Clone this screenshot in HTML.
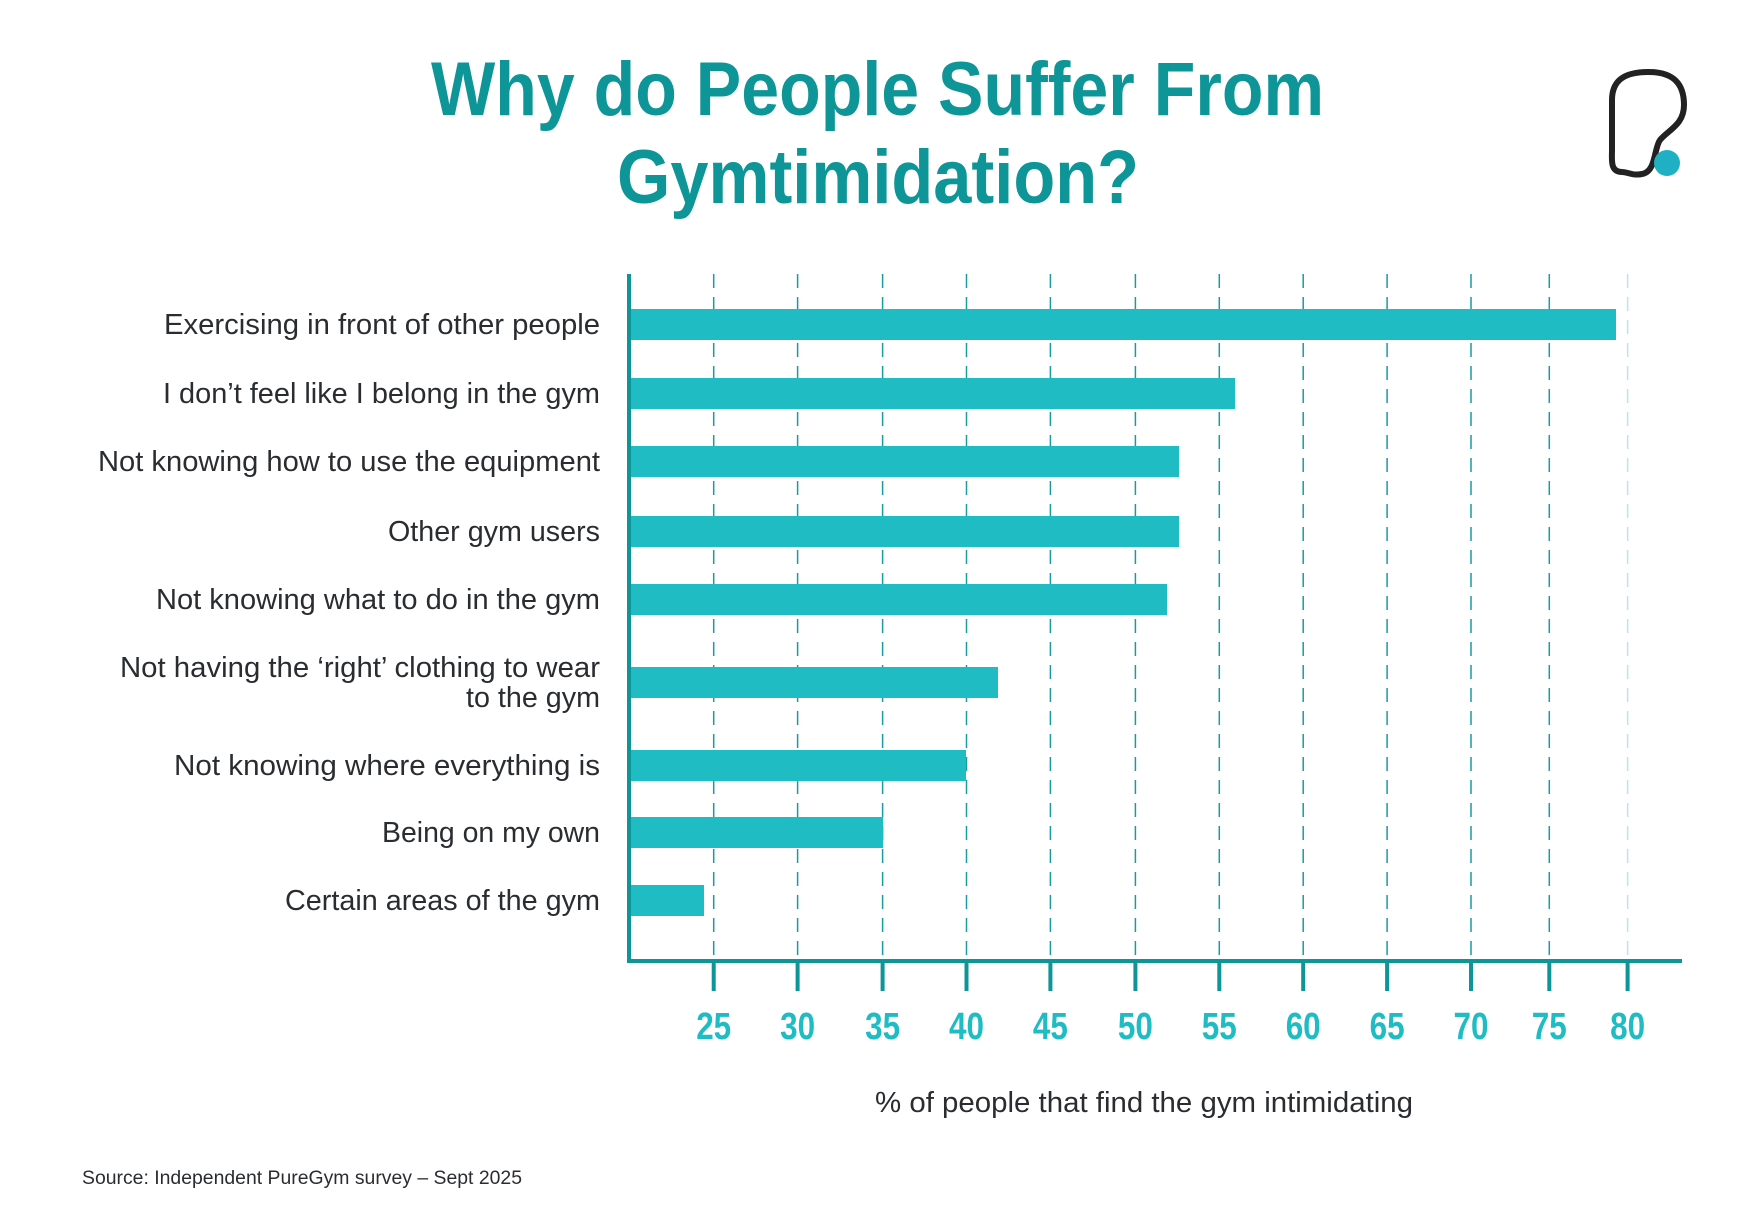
<!DOCTYPE html>
<html><head><meta charset="utf-8"><style>html,body{margin:0;padding:0;background:#fff}svg{display:block}</style></head>
<body>
<svg width="1754" height="1219" viewBox="0 0 1754 1219" xmlns="http://www.w3.org/2000/svg" font-family="Liberation Sans, sans-serif">
<rect width="1754" height="1219" fill="#fff"/>
<g fill="#0e9597" font-weight="bold" font-size="76" text-anchor="start">
<text x="431" y="115" textLength="893" lengthAdjust="spacingAndGlyphs">Why do People Suffer From</text>
<text x="617" y="203" textLength="522" lengthAdjust="spacingAndGlyphs">Gymtimidation?</text>
</g>
<path d="M1622 172 C1610 172 1612 160 1612 150 L1612 100 C1612 80 1625 72 1648 72 C1675 72 1684 85 1684 105 C1684 125 1668 130 1660 140 C1654 148 1656 172 1642 174 C1632 176 1628 172 1622 172 Z" fill="none" stroke="#222" stroke-width="6"/>
<circle cx="1667" cy="163" r="13" fill="#20b0c4"/>
<g stroke="#1a9aa3" stroke-width="1.5" stroke-dasharray="14,9">
<line x1="713.7" y1="274" x2="713.7" y2="961"/><line x1="797.6" y1="274" x2="797.6" y2="961"/><line x1="882.6" y1="274" x2="882.6" y2="961"/><line x1="966.5" y1="274" x2="966.5" y2="961"/><line x1="1050.4" y1="274" x2="1050.4" y2="961"/><line x1="1135.4" y1="274" x2="1135.4" y2="961"/><line x1="1219.3" y1="274" x2="1219.3" y2="961"/><line x1="1303.2" y1="274" x2="1303.2" y2="961"/><line x1="1387.1" y1="274" x2="1387.1" y2="961"/><line x1="1471" y1="274" x2="1471" y2="961"/><line x1="1549.3" y1="274" x2="1549.3" y2="961"/><line x1="1627.6" y1="274" x2="1627.6" y2="961" stroke="#bfe3e6"/>
</g>
<g fill="#20bcc3">
<rect x="629" y="309" width="987" height="31"/>
<rect x="629" y="378" width="606" height="31"/>
<rect x="629" y="446" width="550" height="31"/>
<rect x="629" y="516" width="550" height="31"/>
<rect x="629" y="584" width="538" height="31"/>
<rect x="629" y="667" width="369" height="31"/>
<rect x="629" y="750" width="337" height="31"/>
<rect x="629" y="817" width="254" height="31"/>
<rect x="629" y="885" width="75" height="31"/>
</g>
<g stroke="#0e9597" stroke-width="4">
<line x1="629" y1="274" x2="629" y2="961"/>
<line x1="627" y1="961" x2="1682" y2="961"/>
<line x1="713.7" y1="961" x2="713.7" y2="991"/><line x1="797.6" y1="961" x2="797.6" y2="991"/><line x1="882.6" y1="961" x2="882.6" y2="991"/><line x1="966.5" y1="961" x2="966.5" y2="991"/><line x1="1050.4" y1="961" x2="1050.4" y2="991"/><line x1="1135.4" y1="961" x2="1135.4" y2="991"/><line x1="1219.3" y1="961" x2="1219.3" y2="991"/><line x1="1303.2" y1="961" x2="1303.2" y2="991"/><line x1="1387.1" y1="961" x2="1387.1" y2="991"/><line x1="1471" y1="961" x2="1471" y2="991"/><line x1="1549.3" y1="961" x2="1549.3" y2="991"/><line x1="1627.6" y1="961" x2="1627.6" y2="991"/>
</g>
<g fill="#20bcc3" font-weight="bold" font-size="38" text-anchor="middle">
<text x="713.7" y="1039" textLength="35" lengthAdjust="spacingAndGlyphs">25</text><text x="797.6" y="1039" textLength="35" lengthAdjust="spacingAndGlyphs">30</text><text x="882.6" y="1039" textLength="35" lengthAdjust="spacingAndGlyphs">35</text><text x="966.5" y="1039" textLength="35" lengthAdjust="spacingAndGlyphs">40</text><text x="1050.4" y="1039" textLength="35" lengthAdjust="spacingAndGlyphs">45</text><text x="1135.4" y="1039" textLength="35" lengthAdjust="spacingAndGlyphs">50</text><text x="1219.3" y="1039" textLength="35" lengthAdjust="spacingAndGlyphs">55</text><text x="1303.2" y="1039" textLength="35" lengthAdjust="spacingAndGlyphs">60</text><text x="1387.1" y="1039" textLength="35" lengthAdjust="spacingAndGlyphs">65</text><text x="1471" y="1039" textLength="35" lengthAdjust="spacingAndGlyphs">70</text><text x="1549.3" y="1039" textLength="35" lengthAdjust="spacingAndGlyphs">75</text><text x="1627.6" y="1039" textLength="35" lengthAdjust="spacingAndGlyphs">80</text>
</g>
<g fill="#2a2d30" font-size="29" text-anchor="end">
<text x="600" y="334" textLength="436" lengthAdjust="spacingAndGlyphs">Exercising in front of other people</text>
<text x="600" y="403" textLength="437" lengthAdjust="spacingAndGlyphs">I don’t feel like I belong in the gym</text>
<text x="600" y="471" textLength="502" lengthAdjust="spacingAndGlyphs">Not knowing how to use the equipment</text>
<text x="600" y="541" textLength="212" lengthAdjust="spacingAndGlyphs">Other gym users</text>
<text x="600" y="609" textLength="444" lengthAdjust="spacingAndGlyphs">Not knowing what to do in the gym</text>
<text x="600" y="677" textLength="480" lengthAdjust="spacingAndGlyphs">Not having the ‘right’ clothing to wear</text>
<text x="600" y="707" textLength="134" lengthAdjust="spacingAndGlyphs">to the gym</text>
<text x="600" y="775" textLength="426" lengthAdjust="spacingAndGlyphs">Not knowing where everything is</text>
<text x="600" y="842" textLength="218" lengthAdjust="spacingAndGlyphs">Being on my own</text>
<text x="600" y="910" textLength="315" lengthAdjust="spacingAndGlyphs">Certain areas of the gym</text>
</g>
<text x="875" y="1112" fill="#2a2d30" font-size="29" textLength="538" lengthAdjust="spacingAndGlyphs">% of people that find the gym intimidating</text>
<text x="82" y="1184" fill="#2a2d30" font-size="19" textLength="440" lengthAdjust="spacingAndGlyphs">Source: Independent PureGym survey – Sept 2025</text>
</svg>
</body></html>
